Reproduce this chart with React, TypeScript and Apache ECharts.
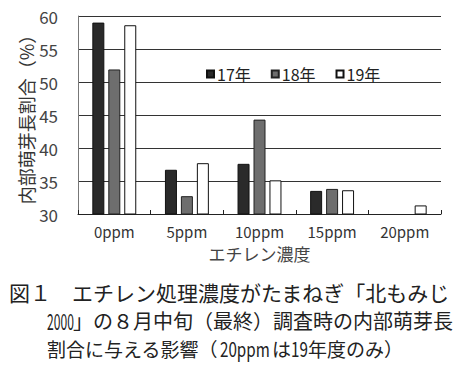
import React, { useEffect, useRef } from "react";
import * as echarts from "echarts";

const categories = ["0ppm", "5ppm", "10ppm", "15ppm", "20ppm"];
const seriesNames = ["17年", "18年", "19年"];
const values17 = [59.0, 36.7, 37.6, 33.5, null];
const values18 = [51.9, 32.7, 44.3, 33.8, null];
const values19 = [58.6, 37.7, 35.1, 33.6, 31.3];
const yTicks = { min: 30, max: 60, interval: 5 };
const yName = "内部萌芽長割合（%）";
const xName = "エチレン濃度";
const captionLine1 = ["図１", "エチレン処理濃度がたまねぎ「北もみじ"];
const captionLine2 = ["2000", "」の８月中旬（最終）調査時の内部萌芽長"];
const captionLine3 = ["割合に与える影響（", "20ppm", "は", "19", "年度のみ）"];

const FONT = "'Noto Sans CJK JP', 'Noto Sans', sans-serif";

export default function App() {
  const ref = useRef<HTMLDivElement>(null);
  useEffect(() => {
    if (!ref.current) return;
    const chart = echarts.init(ref.current, null, { renderer: "svg" });
    const barBase = {
      type: "bar",
      barWidth: 12,
      barGap: "33%",
    };
    const cap = (text: string, x: number, y: number, size: number, scaleX = 1) => ({
      type: "text",
      x,
      y,
      scaleX,
      style: { text, fontSize: size, fill: "#222", fontFamily: FONT, align: "left", verticalAlign: "top" },
    });
    chart.setOption({
      animation: false,
      backgroundColor: "#ffffff",
      textStyle: { fontFamily: FONT },
      grid: { left: 78, right: 19, top: 16, bottom: 163 },
      legend: {
        left: 201,
        top: 61,
        itemWidth: 7,
        itemHeight: 7,
        itemGap: 20,
        icon: "rect",
        textStyle: { fontSize: 16, color: "#222", fontFamily: FONT, padding: [0, 0, 0, -2] },
        data: seriesNames,
      },
      xAxis: {
        type: "category",
        data: categories,
        name: xName,
        nameLocation: "middle",
        nameGap: 31,
        nameMoveOverlap: false,
        nameTextStyle: { fontSize: 17, color: "#444", fontFamily: FONT },
        axisLine: { lineStyle: { color: "#222", width: 1 } },
        axisTick: { show: true, inside: true, length: 4, lineStyle: { color: "#222" } },
        axisLabel: { fontSize: 15, color: "#333", margin: 10, fontFamily: FONT },
      },
      yAxis: {
        type: "value",
        min: yTicks.min,
        max: yTicks.max,
        interval: yTicks.interval,
        name: yName,
        nameLocation: "middle",
        nameGap: 43,
        nameMoveOverlap: false,
        nameTextStyle: { fontSize: 18, color: "#333", fontFamily: FONT },
        axisLine: { show: true, lineStyle: { color: "#777", width: 1 } },
        axisTick: { show: false },
        axisLabel: { fontSize: 17, color: "#444", margin: 20, fontFamily: FONT },
        splitLine: { lineStyle: { color: "#333", width: 1 } },
      },
      series: [
        { ...barBase, name: seriesNames[0], data: values17, itemStyle: { color: "#2a2a2a", borderColor: "#111", borderWidth: 1 } },
        { ...barBase, name: seriesNames[1], data: values18, itemStyle: { color: "#6e6e6e", borderColor: "#222", borderWidth: 1 } },
        { ...barBase, name: seriesNames[2], data: values19, itemStyle: { color: "#ffffff", borderColor: "#111", borderWidth: 1 } },
      ],
      graphic: [
        cap(captionLine1[0], 9, 281, 21),
        cap(captionLine1[1], 72, 281, 21),
        cap(captionLine2[0], 47, 309, 22, 0.55),
        cap(captionLine2[1], 73, 310, 20),
        cap(captionLine3[0], 47, 339, 19),
        cap(captionLine3[1], 220, 338, 20, 0.76),
        cap(captionLine3[2], 272, 339, 19),
        cap(captionLine3[3], 291, 338, 20, 0.76),
        cap(captionLine3[4], 308, 339, 19),
      ],
    });
    return () => chart.dispose();
  }, []);
  return <div ref={ref} style={{ width: 460, height: 377, position: "absolute", left: 0, top: 0 }} />;
}
